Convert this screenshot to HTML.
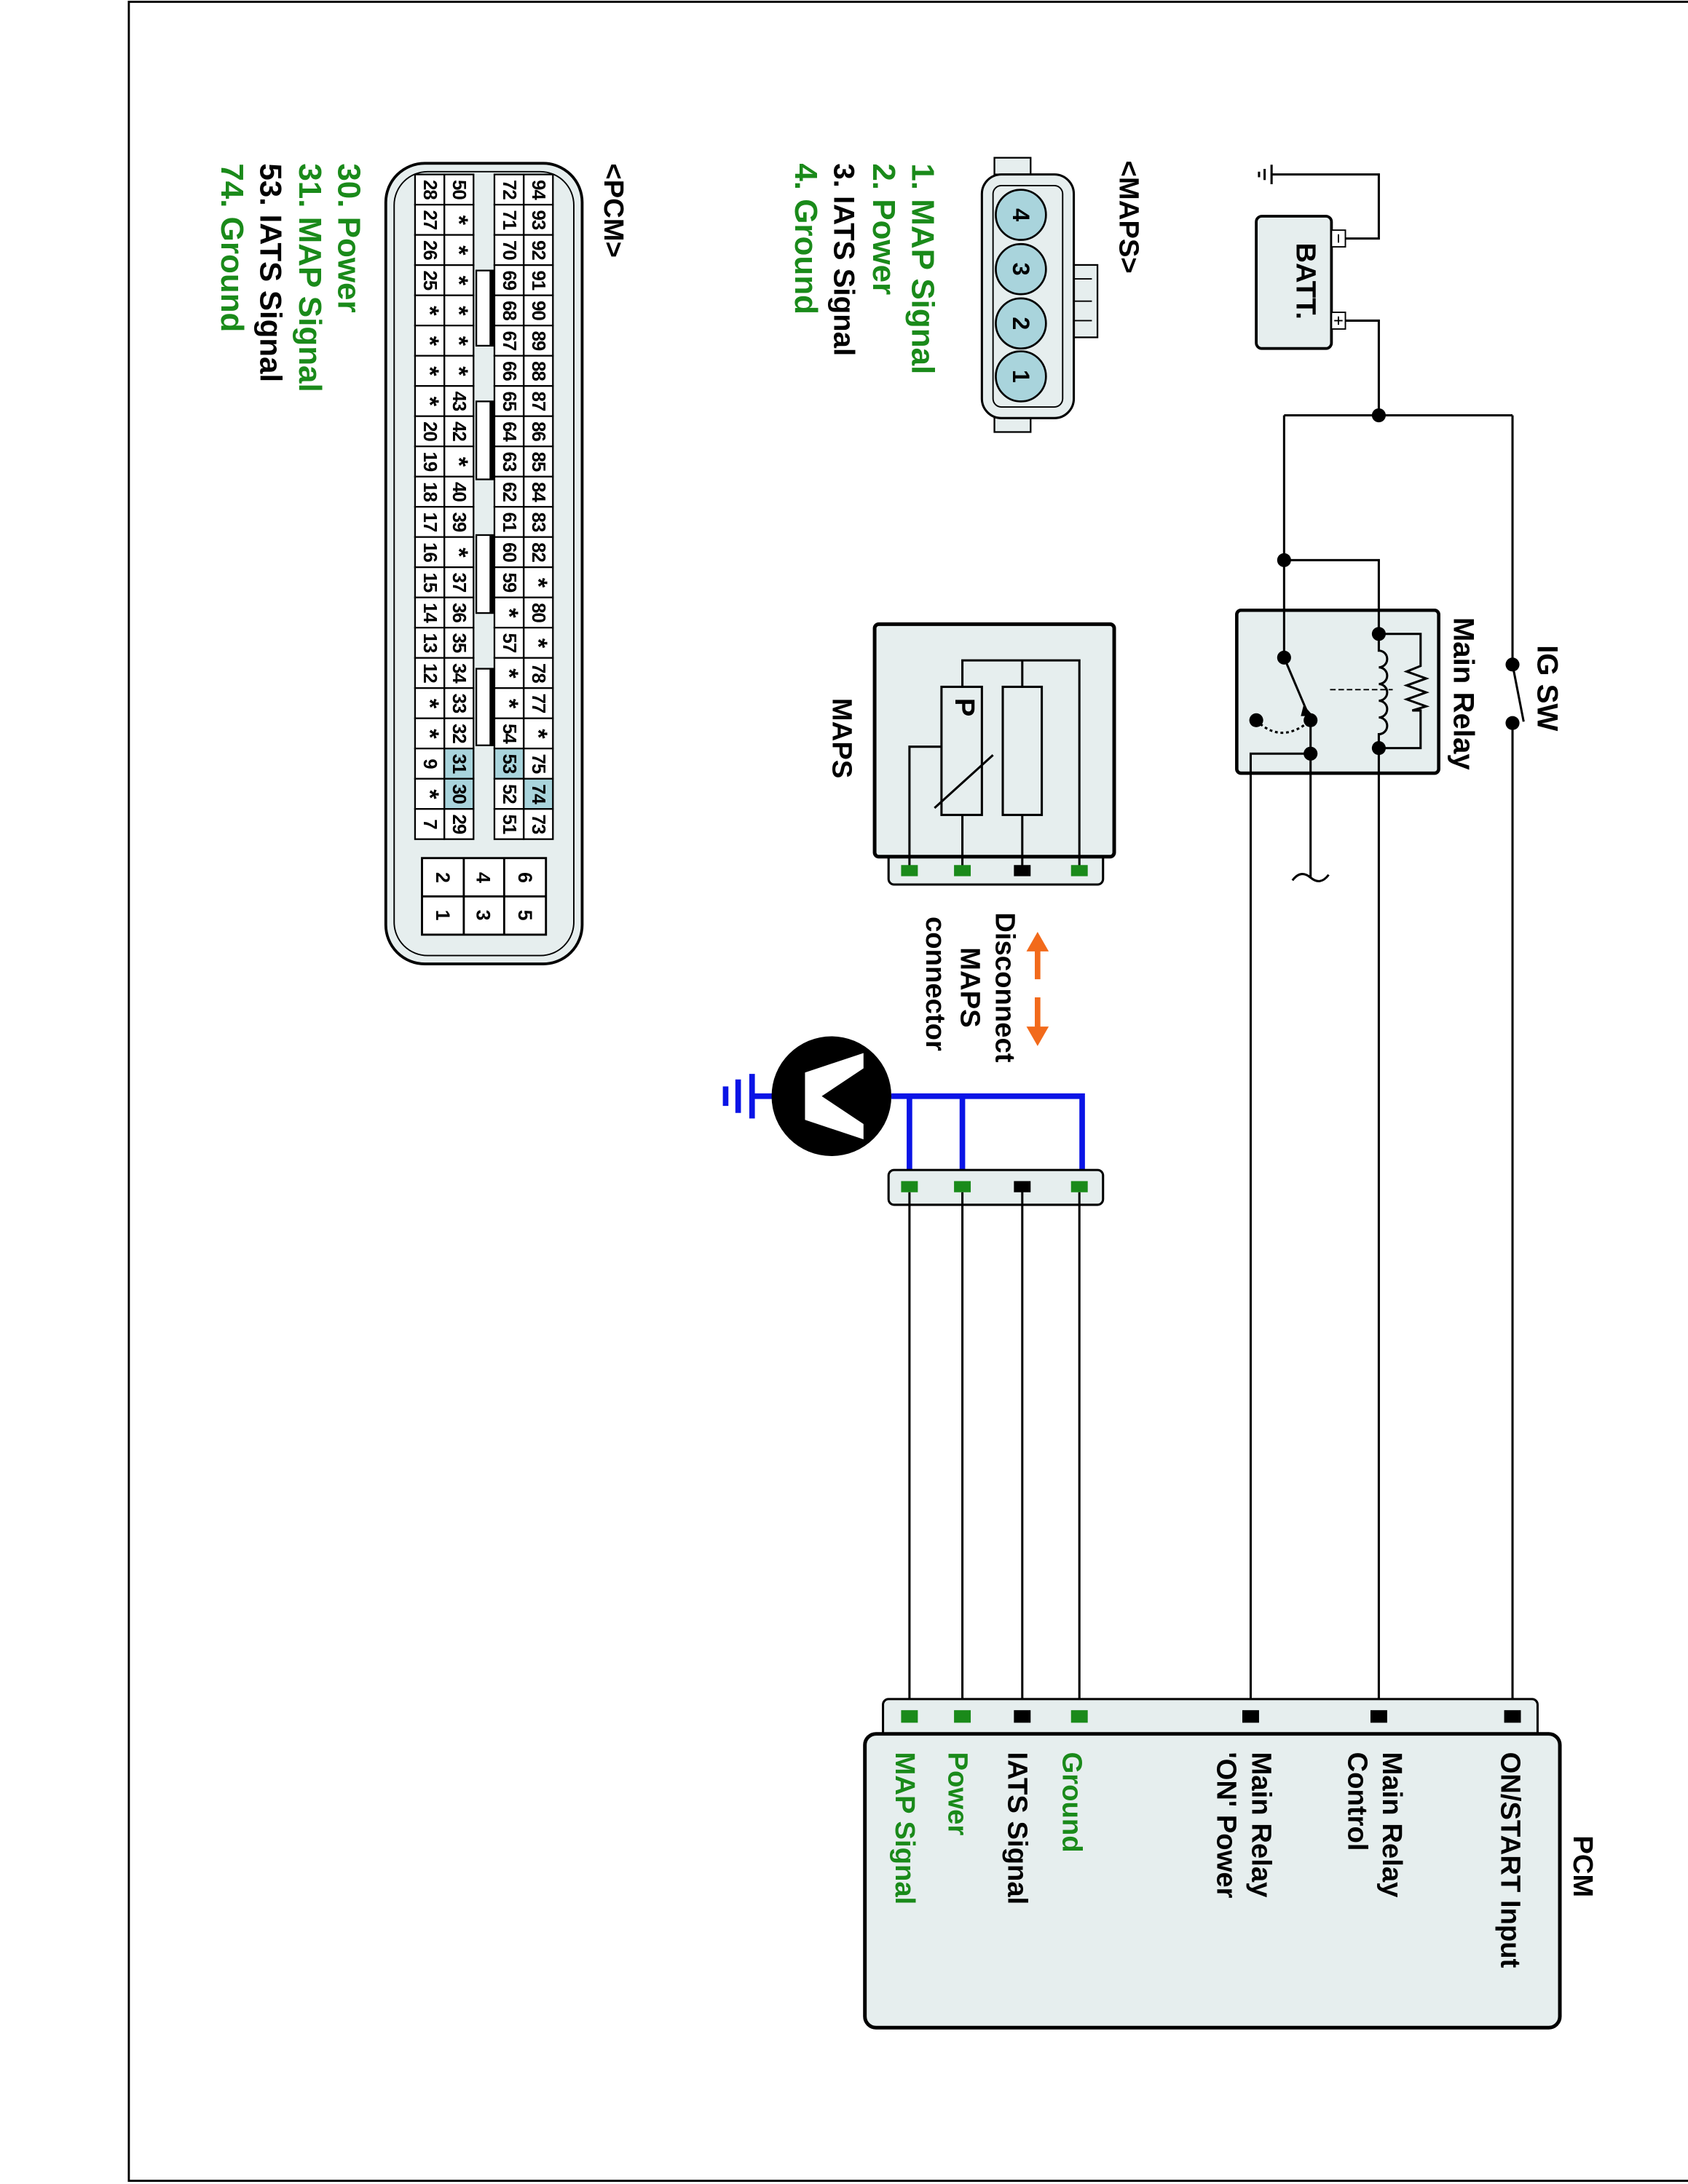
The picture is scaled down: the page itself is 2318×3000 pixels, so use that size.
<!DOCTYPE html>
<html><head><meta charset="utf-8"><style>
html,body{margin:0;padding:0;background:#fff}
svg{display:block}
text{font-family:"Liberation Sans",Arial,sans-serif}
</style></head><body>
<svg width="2318" height="3000" viewBox="0 0 1212 1568" xmlns="http://www.w3.org/2000/svg">
<rect x="0" y="0" width="1212" height="1568" fill="#fff"/>
<rect x="92.5" y="1" width="1122" height="1565" fill="none" stroke="#000" stroke-width="1.5"/>

<g stroke="#000" stroke-width="1.6" fill="none">
<rect x="902" y="155" width="54" height="95" rx="4" fill="#e6eeee" stroke-width="2"/>
<rect x="956" y="165" width="10" height="12" fill="#fff" stroke-width="1"/>
<rect x="956" y="224" width="10" height="12" fill="#fff" stroke-width="1"/>
<line x1="961" y1="168" x2="961" y2="174" stroke-width="1"/>
<line x1="958" y1="230" x2="964" y2="230" stroke-width="1"/><line x1="961" y1="227" x2="961" y2="233" stroke-width="1"/>
<polyline points="966,171 990,171 990,125 913,125"/>
<line x1="913" y1="118" x2="913" y2="132"/>
<line x1="908" y1="121" x2="908" y2="129"/>
<line x1="904" y1="123" x2="904" y2="127"/>
<polyline points="966,230 990,230 990,298"/>
<line x1="922" y1="298" x2="1086" y2="298"/>
<line x1="1086" y1="298" x2="1086" y2="477"/>
<line x1="1086" y1="477" x2="1094" y2="518"/>
<line x1="1086" y1="519" x2="1086" y2="1232"/>
<rect x="888" y="438" width="145" height="117" rx="3" fill="#e6eeee" stroke-width="2.4"/>
<line x1="922" y1="298" x2="922" y2="472"/>
<polyline points="922,402 990,402 990,455"/>
<path d="M990,455 v12 a6,6 0 0 1 0,12 a6,6 0 0 1 0,12 a6,6 0 0 1 0,12 a6,6 0 0 1 0,12 a6,6 0 0 1 0,12 V537"/>
<polyline points="990,455 1020,455 1020,478 1010,482 1024,487 1010,492 1024,497 1010,502 1024,507 1014,510 1020,510 1020,537 990,537"/>
<line x1="990" y1="537" x2="990" y2="1232"/>
<line x1="955" y1="495" x2="1000" y2="495" stroke-dasharray="4,2" stroke-width="1"/>
<line x1="922" y1="472" x2="939" y2="512"/>
<path d="M902,517 Q920,535 941,517" stroke-dasharray="2,2"/>
<polyline points="941,541 898,541 898,1232"/>
<line x1="941" y1="517" x2="941" y2="630"/>
<path d="M928,632 q6,-8 13,-2 q7,6 13,-2" />
</g>
<polygon points="936,506 943,514 934,514" fill="#000"/>
<g fill="#000">
<circle cx="990" cy="298" r="5"/><circle cx="922" cy="402" r="5"/>
<circle cx="1086" cy="477" r="5"/><circle cx="1086" cy="519" r="5"/>
<circle cx="990" cy="455" r="5"/><circle cx="990" cy="537" r="5"/>
<circle cx="922" cy="472" r="5"/><circle cx="941" cy="517" r="5"/>
<circle cx="941" cy="541" r="5"/><circle cx="902" cy="517" r="5"/>
</g>
<text transform="translate(931,174) rotate(90)" font-size="20" font-weight="bold">BATT.</text>
<text transform="translate(1104,463) rotate(90)" font-size="21" font-weight="bold">IG SW</text>
<text transform="translate(1044,443) rotate(90)" font-size="21" font-weight="bold">Main Relay</text>

<rect x="638" y="612" width="154" height="23" rx="4" fill="#e6eeee" stroke="#000" stroke-width="1.6"/>
<rect x="628" y="448" width="172" height="167" rx="3" fill="#e6eeee" stroke="#000" stroke-width="2.6"/>
<g stroke="#000" stroke-width="1.6" fill="none">
<rect x="676" y="493" width="29" height="92"/>
<rect x="720" y="493" width="28" height="92"/>
<polyline points="691,493 691,474 775,474 775,625"/>
<polyline points="734,493 734,474"/>
<line x1="734" y1="585" x2="734" y2="625"/>
<line x1="691" y1="585" x2="691" y2="625"/>
<polyline points="676,536 653,536 653,625"/>
<line x1="671" y1="580" x2="713" y2="542"/>
</g>
<text transform="translate(686,501) rotate(90)" font-size="20" font-weight="bold">P</text>
<g><rect x="647" y="621" width="12" height="8" fill="#1a8a1a"/><rect x="685" y="621" width="12" height="8" fill="#1a8a1a"/><rect x="728" y="621" width="12" height="8" fill="#000"/><rect x="769" y="621" width="12" height="8" fill="#1a8a1a"/></g>
<text transform="translate(598,501) rotate(90)" font-size="20" font-weight="bold">MAPS</text>

<g stroke="#f26a1b" stroke-width="4"><line x1="745" y1="680" x2="745" y2="703"/><line x1="745" y1="716" x2="745" y2="740"/></g>
<polygon points="745,669 737,683 753,683" fill="#f26a1b"/>
<polygon points="745,751 737,737 753,737" fill="#f26a1b"/>
<g font-size="20" font-weight="bold">
<text transform="translate(715,655) rotate(90)">Disconnect</text>
<text transform="translate(690,680) rotate(90)">MAPS</text>
<text transform="translate(665,658) rotate(90)">connector</text>
</g>

<g stroke="#0a14e6" stroke-width="4" fill="none">
<polyline points="640,787 777,787 777,852"/>
<line x1="653" y1="787" x2="653" y2="852"/>
<line x1="691" y1="787" x2="691" y2="852"/>
<line x1="540" y1="787" x2="556" y2="787"/>
<line x1="540" y1="771" x2="540" y2="803"/>
<line x1="530" y1="775" x2="530" y2="799"/>
<line x1="521" y1="780" x2="521" y2="794"/>
</g>
<ellipse cx="597" cy="787" rx="43" ry="43" fill="#000"/>
<polygon points="578,770 620,756 620,767 590,787 620,807 620,818 578,804" fill="#fff"/>
<rect x="638" y="840" width="154" height="25" rx="4" fill="#e6eeee" stroke="#000" stroke-width="1.6"/>
<g><rect x="647" y="848" width="12" height="8" fill="#1a8a1a"/><rect x="685" y="848" width="12" height="8" fill="#1a8a1a"/><rect x="728" y="848" width="12" height="8" fill="#000"/><rect x="769" y="848" width="12" height="8" fill="#1a8a1a"/></g>
<g stroke="#000" stroke-width="1.6">
<line x1="653" y1="856" x2="653" y2="1232"/><line x1="691" y1="856" x2="691" y2="1232"/>
<line x1="734" y1="852" x2="734" y2="1232"/><line x1="775" y1="856" x2="775" y2="1232"/>
</g>

<rect x="634" y="1220" width="470" height="30" rx="4" fill="#e6eeee" stroke="#000" stroke-width="1.6"/>
<rect x="621" y="1245" width="499" height="211" rx="8" fill="#e6eeee" stroke="#000" stroke-width="2.6"/>
<g>
<rect x="647" y="1228" width="12" height="9" fill="#1a8a1a"/><rect x="685" y="1228" width="12" height="9" fill="#1a8a1a"/>
<rect x="728" y="1228" width="12" height="9" fill="#000"/><rect x="769" y="1228" width="12" height="9" fill="#1a8a1a"/>
<rect x="892" y="1228" width="12" height="9" fill="#000"/><rect x="984" y="1228" width="12" height="9" fill="#000"/>
<rect x="1080" y="1228" width="12" height="9" fill="#000"/>
</g>
<g font-size="20" font-weight="bold">
<text transform="translate(1130,1318) rotate(90)">PCM</text>
<text transform="translate(1078,1258) rotate(90)">ON/START Input</text>
<text transform="translate(993,1258) rotate(90)">Main Relay</text>
<text transform="translate(968,1258) rotate(90)">Control</text>
<text transform="translate(899,1258) rotate(90)">Main Relay</text>
<text transform="translate(874,1258) rotate(90)">'ON' Power</text>
<text transform="translate(763,1258) rotate(90)" fill="#1a8a1a">Ground</text>
<text transform="translate(724,1258) rotate(90)">IATS Signal</text>
<text transform="translate(681,1258) rotate(90)" fill="#1a8a1a">Power</text>
<text transform="translate(643,1258) rotate(90)" fill="#1a8a1a">MAP Signal</text>
</g>

<text transform="translate(804,115) rotate(90)" font-size="20" font-weight="bold">&lt;MAPS&gt;</text>
<rect x="714" y="113" width="26" height="12" fill="#e6eeee" stroke="#000" stroke-width="1.2"/>
<rect x="714" y="298" width="26" height="12" fill="#e6eeee" stroke="#000" stroke-width="1.2"/>
<rect x="766" y="190" width="22" height="52" fill="#e6eeee" stroke="#000" stroke-width="1.2"/>
<line x1="770" y1="200" x2="784" y2="200" stroke="#000"/><line x1="770" y1="216" x2="784" y2="216" stroke="#000"/><line x1="770" y1="230" x2="784" y2="230" stroke="#000"/>
<rect x="705" y="125" width="66" height="175" rx="14" fill="#e6eeee" stroke="#000" stroke-width="1.6"/>
<rect x="713" y="133" width="50" height="159" rx="6" fill="none" stroke="#000" stroke-width="1"/>
<g fill="#a9d4dc" stroke="#000" stroke-width="1.4">
<circle cx="733" cy="154" r="18"/><circle cx="733" cy="193" r="18"/><circle cx="733" cy="232" r="18"/><circle cx="733" cy="270" r="18"/>
</g>
<g font-size="17" font-weight="bold" text-anchor="middle" dominant-baseline="central">
<text transform="translate(733,154) rotate(90)">4</text><text transform="translate(733,193) rotate(90)">3</text>
<text transform="translate(733,232) rotate(90)">2</text><text transform="translate(733,270) rotate(90)">1</text>
</g>
<g font-size="23" font-weight="bold">
<text transform="translate(655,117) rotate(90)" fill="#1a8a1a">1. MAP Signal</text>
<text transform="translate(627,117) rotate(90)" fill="#1a8a1a">2. Power</text>
<text transform="translate(599,117) rotate(90)" fill="#000" font-size="21">3. IATS Signal</text>
<text transform="translate(571,117) rotate(90)" fill="#1a8a1a">4. Ground</text>
</g>

<text transform="translate(434,117) rotate(90)" font-size="20" font-weight="bold">&lt;PCM&gt;</text>
<rect x="277" y="117" width="141" height="575" rx="28" fill="#e6eeee" stroke="#000" stroke-width="2"/>
<rect x="283" y="123" width="129" height="563" rx="24" fill="none" stroke="#000" stroke-width="1"/>
<g fill="#fff" stroke="#000" stroke-width="1.2">
<rect x="342" y="194" width="12" height="54"/><rect x="342" y="288" width="12" height="56"/>
<rect x="342" y="384" width="12" height="56"/><rect x="342" y="480" width="12" height="55"/>
</g>
<g stroke="#000" stroke-width="3"><line x1="353" y1="194" x2="353" y2="248"/><line x1="353" y1="288" x2="353" y2="344"/><line x1="353" y1="384" x2="353" y2="440"/><line x1="353" y1="480" x2="353" y2="535"/></g>
<g id="grid" font-size="13.5" font-weight="bold" text-anchor="middle" dominant-baseline="central" letter-spacing="-0.5"></g>
<g fill="#fff" stroke="#000" stroke-width="1.5">
<rect x="303" y="616" width="89" height="55"/>
</g>
<g stroke="#000" stroke-width="1.5"><line x1="303" y1="643.5" x2="392" y2="643.5"/><line x1="333" y1="616" x2="333" y2="671"/><line x1="362" y1="616" x2="362" y2="671"/></g>
<g font-size="14" font-weight="bold" text-anchor="middle" dominant-baseline="central">
<text transform="translate(377,630) rotate(90)">6</text><text transform="translate(377,657) rotate(90)">5</text>
<text transform="translate(347,630) rotate(90)">4</text><text transform="translate(347,657) rotate(90)">3</text>
<text transform="translate(318,630) rotate(90)">2</text><text transform="translate(318,657) rotate(90)">1</text>
</g>
<g font-size="23" font-weight="bold">
<text transform="translate(243,117) rotate(90)" fill="#1a8a1a">30. Power</text>
<text transform="translate(215,117) rotate(90)" fill="#1a8a1a">31. MAP Signal</text>
<text transform="translate(187,117) rotate(90)" fill="#000" font-size="22">53. IATS Signal</text>
<text transform="translate(159,117) rotate(90)" fill="#1a8a1a">74. Ground</text>
</g>
</svg>
<script>
(function(){
var ns="http://www.w3.org/2000/svg";
var cols=[
 [376,397,["94","93","92","91","90","89","88","87","86","85","84","83","82","*","80","*","78","77","*","75","74","73"],[20]],
 [355,376,["72","71","70","69","68","67","66","65","64","63","62","61","60","59","*","57","*","*","54","53","52","51"],[19]],
 [319,340,["50","*","*","*","*","*","*","43","42","*","40","39","*","37","36","35","34","33","32","31","30","29"],[19,20]],
 [298,319,["28","27","26","25","*","*","*","*","20","19","18","17","16","15","14","13","12","*","*","9","*","7"],[]]
];
var g=document.getElementById("grid");
var y0=125,h=21.7;
cols.forEach(function(c){
 for(var i=0;i<22;i++){
  var r=document.createElementNS(ns,"rect");
  r.setAttribute("x",c[0]);r.setAttribute("y",y0+i*h);
  r.setAttribute("width",c[1]-c[0]);r.setAttribute("height",h);
  r.setAttribute("fill",c[3].indexOf(i)>=0?"#a9d4dc":"#fff");
  r.setAttribute("stroke","#000");r.setAttribute("stroke-width","1.2");
  g.appendChild(r);
  var t=document.createElementNS(ns,"text");
  var cx=(c[0]+c[1])/2, cy=y0+i*h+h/2;
  t.setAttribute("transform","translate("+cx+","+cy+") rotate(90)");
  t.textContent=c[2][i];
  if(c[2][i]=="*"){t.setAttribute("font-size","18");}
  g.appendChild(t);
 }
});
})();
</script>
</body></html>
